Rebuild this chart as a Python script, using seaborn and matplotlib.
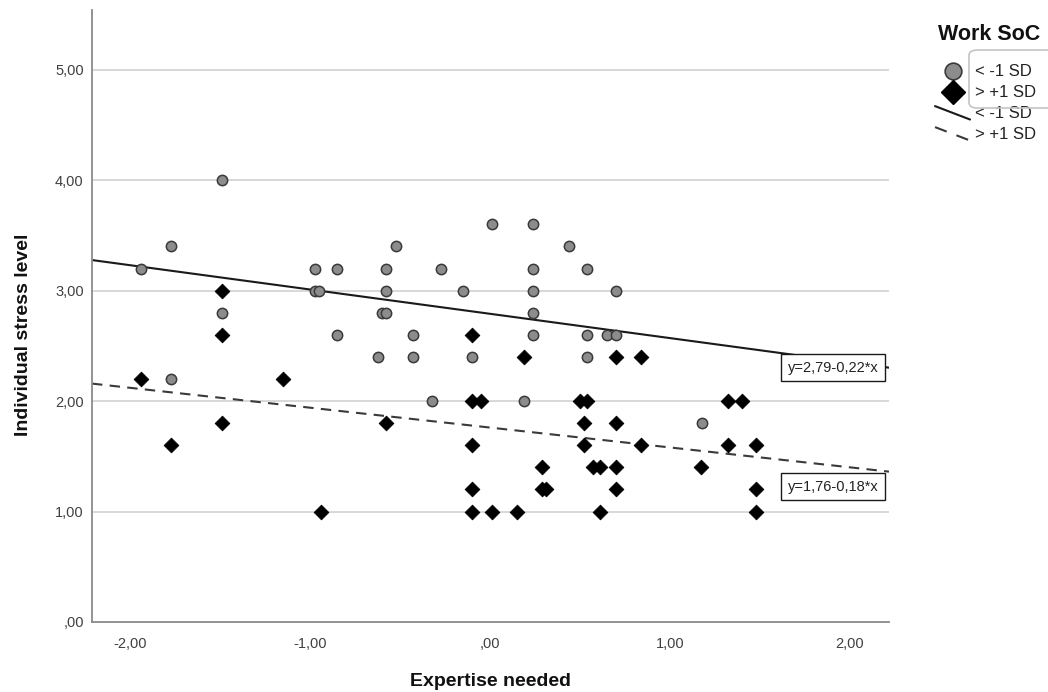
import numpy as np
import pandas as pd
import seaborn as sns
import matplotlib.pyplot as plt
from matplotlib.lines import Line2D
from matplotlib.patches import FancyBboxPatch
from matplotlib.legend_handler import HandlerBase
from matplotlib.ticker import FuncFormatter

# Work SoC < -1 SD (circles)
low_x = [-1.94, -1.77, -1.77, -1.49, -1.49, -0.97, -0.85, -0.97, -0.95, -0.85,
         -0.58, -0.52, -0.27, -0.58, -0.15, -0.60, -0.58, -0.43, -0.62, -0.43,
         -0.10, -0.32, 0.01, 0.24, 0.24, 0.24, 0.24, 0.24, 0.19, 0.44,
         0.54, 0.70, 0.54, 0.65, 0.70, 0.54, 1.18]
low_y = [3.2, 3.4, 2.2, 4.0, 2.8, 3.2, 3.2, 3.0, 3.0, 2.6,
         3.2, 3.4, 3.2, 3.0, 3.0, 2.8, 2.8, 2.6, 2.4, 2.4,
         2.4, 2.0, 3.6, 3.6, 3.2, 3.0, 2.8, 2.6, 2.0, 3.4,
         3.2, 3.0, 2.6, 2.6, 2.6, 2.4, 1.8]

# Work SoC > +1 SD (diamonds)
high_x = [-1.94, -1.77, -1.49, -1.49, -1.49, -1.15, -0.94, -0.58, -0.10, -0.10,
          -0.05, -0.10, -0.10, -0.10, 0.01, 0.15, 0.19, 0.29, 0.29, 0.31,
          0.50, 0.54, 0.52, 0.52, 0.57, 0.61, 0.61, 0.70, 0.70, 0.70,
          0.70, 0.84, 0.84, 1.17, 1.32, 1.40, 1.32, 1.48, 1.48, 1.48]
high_y = [2.2, 1.6, 3.0, 2.6, 1.8, 2.2, 1.0, 1.8, 2.6, 2.0,
          2.0, 1.6, 1.2, 1.0, 1.0, 1.0, 2.4, 1.4, 1.2, 1.2,
          2.0, 2.0, 1.8, 1.6, 1.4, 1.4, 1.0, 2.4, 1.8, 1.4,
          1.2, 2.4, 1.6, 1.4, 2.0, 2.0, 1.6, 1.6, 1.2, 1.0]

groups = ['< -1 SD', '> +1 SD']
intercepts = [2.79, 1.76]
slopes = [-0.22, -0.18]
fit_labels = ['y=2,79-0,22*x', 'y=1,76-0,18*x']

x_ticks = [-2, -1, 0, 1, 2]
y_ticks = [0, 1, 2, 3, 4, 5]

df = pd.DataFrame({
    'expertise': low_x + high_x,
    'stress': low_y + high_y,
    'soc': [groups[0]] * len(low_x) + [groups[1]] * len(high_x),
})

sns.set_theme(style='white')
plt.rcParams['font.family'] = ['Liberation Sans', 'DejaVu Sans']

fig = plt.figure(figsize=(10.48, 6.92), dpi=100)
ax = fig.add_axes([0.0878, 0.1012, 0.7605, 0.8843])
xmin, xmax = -2.211, 2.217
ax.set_xlim(xmin, xmax)
ax.set_ylim(0, 5.54)

for v in y_ticks[1:]:
    ax.axhline(v, color='#d2d2d2', lw=1.2, zorder=0)

sns.scatterplot(data=df[df.soc == groups[0]], x='expertise', y='stress', marker='o',
                s=55, color='#8c8c8c', edgecolor='#3a3a3a', linewidth=1.1, ax=ax,
                legend=False, zorder=3)
sns.scatterplot(data=df[df.soc == groups[1]], x='expertise', y='stress', marker='D',
                s=56, color='black', edgecolor='black', linewidth=0.6, ax=ax,
                legend=False, zorder=3)

xs = np.array([xmin, xmax])
sns.lineplot(x=xs, y=intercepts[0] + slopes[0] * xs, color='#1a1a1a', lw=1.5, ax=ax, zorder=2)
sns.lineplot(x=xs, y=intercepts[1] + slopes[1] * xs, color='#3a3a3a', lw=1.5, ax=ax, zorder=2,
             linestyle=(0, (5, 3.5)))

box = dict(boxstyle='square,pad=0.45', facecolor='white', edgecolor='#1a1a1a', lw=1)
ax.text(1.906, 2.30, fit_labels[0], ha='center', va='center', fontsize=10.5,
        color='#222222', bbox=box, zorder=5)
ax.text(1.906, 1.223, fit_labels[1], ha='center', va='center', fontsize=10.5,
        color='#222222', bbox=box, zorder=5)

def fmt(v, pos):
    s = f'{v:.2f}'.replace('.', ',')
    if s.startswith('0,'):
        s = s[1:]
    return s

ax.set_xticks(x_ticks)
ax.set_yticks(y_ticks)
ax.xaxis.set_major_formatter(FuncFormatter(fmt))
ax.yaxis.set_major_formatter(FuncFormatter(fmt))
ax.tick_params(axis='both', length=0, labelsize=10.5, colors='#404040')
ax.tick_params(axis='x', pad=11)
ax.tick_params(axis='y', pad=6)

for side in ['top', 'right']:
    ax.spines[side].set_visible(False)
for side in ['left', 'bottom']:
    ax.spines[side].set_color('#8a8a8a')
    ax.spines[side].set_linewidth(1.3)

ax.set_xlabel('Expertise needed', fontsize=14, fontweight='bold', color='#111111', labelpad=16)
ax.set_ylabel('Individual stress level', fontsize=14, fontweight='bold', color='#111111')
ax.yaxis.set_label_coords(-0.0753, 0.47)


class SlantLine(HandlerBase):
    def create_artists(self, legend, orig_handle, xdescent, ydescent,
                       width, height, fontsize, trans):
        line = Line2D([-xdescent, -xdescent + width],
                      [-ydescent + height * 1.05, -ydescent - height * 0.1])
        line.update_from(orig_handle)
        line.set_transform(trans)
        return [line]


h_circle = Line2D([], [], marker='o', ls='', markerfacecolor='#8c8c8c',
                  markeredgecolor='#3a3a3a', markeredgewidth=1.2, markersize=12)
h_diamond = Line2D([], [], marker='D', ls='', markerfacecolor='black',
                   markeredgecolor='black', markersize=12.5)
h_solid = Line2D([], [], color='#1a1a1a', lw=1.5)
h_dash = Line2D([], [], color='#3a3a3a', lw=1.5, linestyle=(0, (6, 5)))

fig.text(938 / 1048, 1 - 35 / 692, 'Work SoC', fontsize=15.5, fontweight='bold',
         color='#111111', ha='left', va='center')

leg = ax.legend(handles=[h_circle, h_diamond, h_solid, h_dash],
                labels=[groups[0], groups[1], groups[0], groups[1]],
                handler_map={h_solid: SlantLine(), h_dash: SlantLine()},
                loc='upper left', bbox_to_anchor=(0.8922, 0.907),
                bbox_transform=fig.transFigure, frameon=False,
                fontsize=12, labelspacing=0.36,
                handlelength=2.1, handletextpad=0.3, borderpad=0,
                borderaxespad=0)
for t in leg.get_texts():
    t.set_color('#222222')

fig.patches.append(FancyBboxPatch((0.9246, 0.8439), 0.09, 0.0838,
                                  boxstyle='round,pad=0,rounding_size=0.008',
                                  transform=fig.transFigure, facecolor='none',
                                  edgecolor='#c4c4c4', lw=1.2, zorder=1))

fig.savefig('out.png', dpi=100)
